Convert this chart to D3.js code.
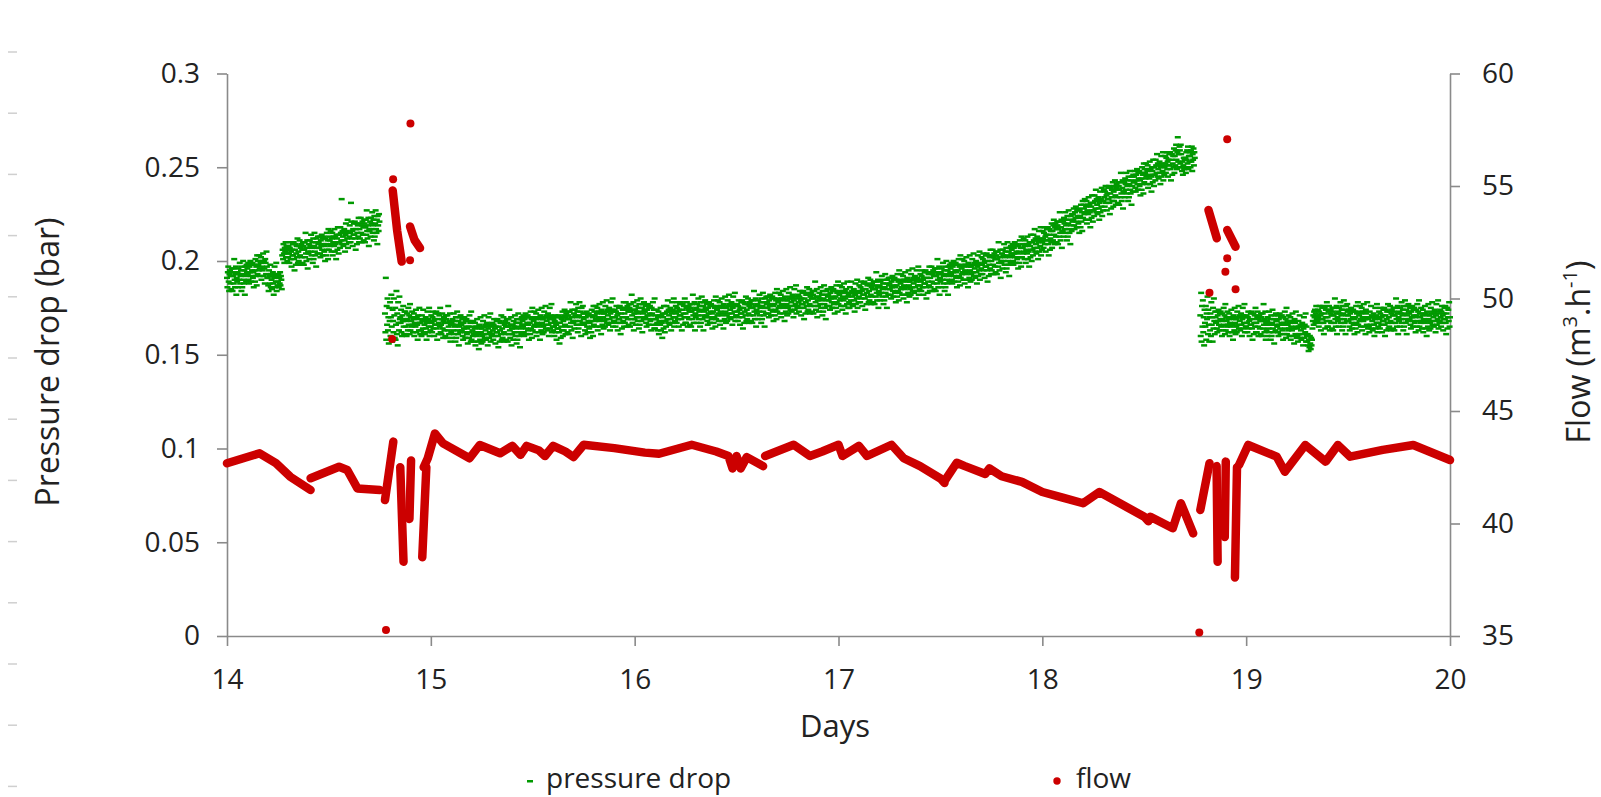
<!DOCTYPE html>
<html>
<head>
<meta charset="utf-8">
<script src="https://cdn.jsdelivr.net/npm/d3@7"></script>
<style>
  body { margin: 0; background: #fff; }
  svg { display: block; font-family: "Open Sans", sans-serif; }
</style>
</head>
<body>
<svg id="chart"></svg>
<script>
const dayTicks = [14, 15, 16, 17, 18, 19, 20]
const pressureTicks = [0, 0.05, 0.1, 0.15, 0.2, 0.25, 0.3]
const flowTicks = [35, 40, 45, 50, 55, 60]

// pressure drop in mbar, one row per block: [start day, then one reading every 3 min]
const pressureDrop = [
  [14.00, 191,186,194,197,189,184,193,195,188,192,185,196, 194,184,192,196,188,201,190,186,193,197,182,191],
  [14.05, 189,194,186,196,193,190,199,188,192,195,184,197, 186,193,200,190,188,195,182,197,192,189,198,194],
  [14.10, 196,193,199,190,188,197,194,200,192,189,198,195, 199,191,194,186,198,195,189,201,192,197,187,203],
  [14.15, 193,200,198,195,203,196,192,199,202,190,197,200, 195,204,192,200,196,188,201,199,193,205,197,191],
  [14.20, 191,187,184,195,192,188,198,186,193,190,185,192, 194,188,182,191,197,186,193,189,199,184,192,187],
  [14.25, 189,193,186,191,188,194,187,192,190,185, 203,206,201,209,204,199,207,205,210,202,208,204,200,206],
  [14.30, 202,208,204,199,207,210,201,205,197,206,203,209, 203,210,201,195,206,209,198,204,208,202,212,199],
  [14.35, 205,200,208,211,203,198,207,209,202,206,199,210, 208,198,206,210,202,215,204,200,207,211,196,205],
  [14.40, 204,209,201,211,208,205,214,203,207,210,199,212, 201,208,215,205,203,210,197,212,207,204,213,209],
  [14.45, 210,207,213,204,202,211,208,214,206,203,212,209, 213,205,208,200,212,209,203,215,206,211,201,217],
  [14.50, 206,213,211,208,216,209,205,212,215,203,210,213, 208,217,205,213,209,201,214,212,206,218,210,204],
  [14.55, 214,210,207,218,215,211,233,209,216,213,208,215, 217,211,205,214,220,209,216,212,222,207,215,210],
  [14.60, 213,219,215,210,231,221,212,216,208,217,214,220, 214,221,212,206,217,220,209,215,219,213,223,210],
  [14.65, 217,212,220,223,215,210,219,221,214,218,211,222, 220,210,218,222,214,227,216,212,219,223,208,217],
  [14.70, 216,221,213,223,220,217,226,215,219,222,211,224, 213,220,227,217,215,222,209,224,219,216,225,221],
  [14.775, 172,162,191,158,176,166,180,163,170,156,175,168],
  [14.80, 178,160,170,182,165,157,174,168,162,180,171,159, 175,158,166,184,161,172,155,178,167,163,181,169],
  [14.85, 170,167,174,162,160,171,168,176,165,161,173,169, 173,165,168,160,172,169,163,175,166,171,161,177],
  [14.90, 163,170,168,165,173,166,162,169,172,160,167,170, 165,174,162,170,166,158,171,169,163,175,167,161],
  [14.95, 167,163,160,171,168,164,174,162,169,166,161,168, 170,164,158,167,173,162,169,165,175,160,168,163],
  [15.00, 165,171,167,162,170,173,164,168,160,169,166,172, 166,173,164,158,169,172,161,167,171,165,175,162],
  [15.05, 166,161,169,172,164,159,168,170,163,167,160,171, 169,159,167,171,163,176,165,161,168,172,157,166],
  [15.10, 162,167,159,169,166,163,172,161,165,168,157,170, 159,166,173,163,161,168,155,170,165,162,171,167],
  [15.15, 166,163,169,160,158,167,164,170,162,159,168,165, 169,161,164,156,168,165,159,171,162,167,157,173],
  [15.20, 158,165,163,160,168,161,157,164,167,155,162,165, 160,169,157,165,161,153,166,164,158,170,162,156],
  [15.25, 164,160,157,168,165,161,171,159,166,163,158,165, 167,161,155,164,170,159,166,162,172,157,165,160],
  [15.30, 161,167,163,158,166,169,160,164,156,165,162,168, 162,169,160,154,165,168,157,163,167,161,171,158],
  [15.35, 164,159,167,170,162,157,166,168,161,165,158,169, 167,157,165,169,161,174,163,159,166,170,155,164],
  [15.40, 161,166,158,168,165,162,171,160,164,167,156,169, 158,165,172,162,160,167,154,169,164,161,170,166],
  [15.45, 168,165,171,162,160,169,166,172,164,161,170,167, 171,163,166,158,170,167,161,173,164,169,159,175],
  [15.50, 163,170,168,165,173,166,162,169,172,160,167,170, 165,174,162,170,166,158,171,169,163,175,167,161],
  [15.55, 169,165,162,173,170,166,176,164,171,168,163,170, 172,166,160,169,175,164,171,167,177,162,170,165],
  [15.60, 163,169,165,160,168,171,162,166,158,167,164,170, 164,171,162,156,167,170,159,165,169,163,173,160],
  [15.65, 168,163,171,174,166,161,170,172,165,169,162,173, 171,161,169,173,165,178,167,163,170,174,159,168],
  [15.70, 167,172,164,174,171,168,177,166,170,173,162,175, 164,171,178,168,166,173,160,175,170,167,176,172],
  [15.75, 169,166,172,163,161,170,167,173,165,162,171,168, 172,164,167,159,171,168,162,174,165,170,160,176],
  [15.80, 166,173,171,168,176,169,165,172,175,163,170,173, 168,177,165,173,169,161,174,172,166,178,170,164],
  [15.85, 172,168,165,176,173,169,179,167,174,171,166,173, 175,169,163,172,178,167,174,170,180,165,173,168],
  [15.90, 168,174,170,165,173,176,167,171,163,172,169,175, 169,176,167,161,172,175,164,170,174,168,178,165],
  [15.95, 172,167,175,178,170,165,174,176,169,173,166,177, 175,165,173,177,169,182,171,167,174,178,163,172],
  [16.00, 169,174,166,176,173,170,179,168,172,175,164,177, 166,173,180,170,168,175,162,177,172,169,178,174],
  [16.05, 173,170,176,167,165,174,171,177,169,166,175,172, 176,168,171,163,175,172,166,178,169,174,164,180],
  [16.10, 164,171,169,166,174,167,163,170,173,161,168,171, 166,175,163,171,167,159,172,170,164,176,168,162],
  [16.15, 172,168,165,176,173,169,179,167,174,171,166,173, 175,169,163,172,178,167,174,170,180,165,173,168],
  [16.20, 170,176,172,167,175,178,169,173,165,174,171,177, 171,178,169,163,174,177,166,172,176,170,180,167],
  [16.25, 172,167,175,178,170,165,174,176,169,173,166,177, 175,165,173,177,169,182,171,167,174,178,163,172],
  [16.30, 170,175,167,177,174,171,180,169,173,176,165,178, 167,174,181,171,169,176,163,178,173,170,179,175],
  [16.35, 174,171,177,168,166,175,172,178,170,167,176,173, 177,169,172,164,176,173,167,179,170,175,165,181],
  [16.40, 169,176,174,171,179,172,168,175,178,166,173,176, 171,180,168,176,172,164,177,175,169,181,173,167],
  [16.45, 175,171,168,179,176,172,182,170,177,174,169,176, 178,172,166,175,181,170,177,173,183,168,176,171],
  [16.50, 171,177,173,168,176,179,170,174,166,175,172,178, 172,179,170,164,175,178,167,173,177,171,181,168],
  [16.55, 174,169,177,180,172,167,176,178,171,175,168,179, 177,167,175,179,171,184,173,169,176,180,165,174],
  [16.60, 172,177,169,179,176,173,182,171,175,178,167,180, 169,176,183,173,171,178,165,180,175,172,181,177],
  [16.65, 178,175,181,172,170,179,176,182,174,171,180,177, 181,173,176,168,180,177,171,183,174,179,169,185],
  [16.70, 173,180,178,175,183,176,172,179,182,170,177,180, 175,184,172,180,176,168,181,179,173,185,177,171],
  [16.75, 179,175,172,183,180,176,186,174,181,178,173,180, 182,176,170,179,185,174,181,177,187,172,180,175],
  [16.80, 176,182,178,173,181,184,175,179,171,180,177,183, 177,184,175,169,180,183,172,178,182,176,186,173],
  [16.85, 179,174,182,185,177,172,181,183,176,180,173,184, 182,172,180,184,176,189,178,174,181,185,170,179],
  [16.90, 176,181,173,183,180,177,186,175,179,182,171,184, 173,180,187,177,175,182,169,184,179,176,185,181],
  [16.95, 182,179,185,176,174,183,180,186,178,175,184,181, 185,177,180,172,184,181,175,187,178,183,173,189],
  [17.00, 177,184,182,179,187,180,176,183,186,174,181,184, 179,188,176,184,180,172,185,183,177,189,181,175],
  [17.05, 182,178,175,186,183,179,189,177,184,181,176,183, 185,179,173,182,188,177,184,180,190,175,183,178],
  [17.10, 181,187,183,178,186,189,180,184,176,185,182,188, 182,189,180,174,185,188,177,183,187,181,191,178],
  [17.15, 184,179,187,190,182,177,186,188,181,185,178,189, 187,177,185,189,181,194,183,179,186,190,175,184],
  [17.20, 182,187,179,189,186,183,192,181,185,188,177,190, 179,186,193,183,181,188,175,190,185,182,191,187],
  [17.25, 188,185,191,182,180,189,186,192,184,181,190,187, 191,183,186,178,190,187,181,193,184,189,179,195],
  [17.30, 183,190,188,185,193,186,182,189,192,180,187,190, 185,194,182,190,186,178,191,189,183,195,187,181],
  [17.35, 189,185,182,193,190,186,196,184,191,188,183,190, 192,186,180,189,195,184,191,187,197,182,190,185],
  [17.40, 187,193,189,184,192,195,186,190,182,191,188,194, 188,195,186,180,191,194,183,189,193,187,197,184],
  [17.45, 191,186,194,197,189,184,193,195,188,192,185,196, 194,184,192,196,188,201,190,186,193,197,182,191],
  [17.50, 189,194,186,196,193,190,199,188,192,195,184,197, 186,193,200,190,188,195,182,197,192,189,198,194],
  [17.55, 196,193,199,190,188,197,194,200,192,189,198,195, 199,191,194,186,198,195,189,201,192,197,187,203],
  [17.60, 191,198,196,193,201,194,190,197,200,188,195,198, 193,202,190,198,194,186,199,197,191,203,195,189],
  [17.65, 197,193,190,201,198,194,204,192,199,196,191,198, 200,194,188,197,203,192,199,195,205,190,198,193],
  [17.70, 196,202,198,193,201,204,195,199,191,200,197,203, 197,204,195,189,200,203,192,198,202,196,206,193],
  [17.75, 200,195,203,206,198,193,202,204,197,201,194,205, 203,193,201,205,197,210,199,195,202,206,191,200],
  [17.80, 199,204,196,206,203,200,209,198,202,205,194,207, 196,203,210,200,198,205,192,207,202,199,208,204],
  [17.85, 206,203,209,200,198,207,204,210,202,199,208,205, 209,201,204,196,208,205,199,211,202,207,197,213],
  [17.90, 202,209,207,204,212,205,201,208,211,199,206,209, 204,213,201,209,205,197,210,208,202,214,206,200],
  [17.95, 210,206,203,214,211,207,217,205,212,209,204,211, 213,207,201,210,216,205,212,208,218,203,211,206],
  [18.00, 210,216,212,207,215,218,209,213,205,214,211,217, 211,218,209,203,214,217,206,212,216,210,220,207],
  [18.05, 216,211,219,222,214,209,218,220,213,217,210,221, 219,209,217,221,213,226,215,211,218,222,207,216],
  [18.10, 216,221,213,223,220,217,226,215,219,222,211,224, 213,220,227,217,215,222,209,224,219,216,225,221],
  [18.15, 225,222,228,219,217,226,223,229,221,218,227,224, 228,220,223,215,227,224,218,230,221,226,216,232],
  [18.20, 223,230,228,225,233,226,222,229,232,220,227,230, 225,234,222,230,226,218,231,229,223,235,227,221],
  [18.25, 231,227,224,235,232,228,238,226,233,230,225,232, 234,228,222,231,237,226,233,229,239,224,232,227],
  [18.30, 232,238,234,229,237,240,231,235,227,236,233,239, 233,240,231,225,236,239,228,234,238,232,242,229],
  [18.35, 237,232,240,243,235,230,239,241,234,238,231,242, 240,230,238,242,234,247,236,232,239,243,228,237],
  [18.40, 237,242,234,244,241,238,247,236,240,243,232,245, 234,241,248,238,236,243,230,245,240,237,246,242],
  [18.45, 245,242,248,239,237,246,243,249,241,238,247,244, 248,240,243,235,247,244,238,250,241,246,236,252],
  [18.50, 242,249,247,244,252,245,241,248,251,239,246,249, 244,253,241,249,245,237,250,248,242,254,246,240],
  [18.55, 250,246,243,254,251,247,257,245,252,249,244,251, 253,247,241,250,256,245,252,248,258,243,251,246],
  [18.60, 250,256,252,247,255,258,249,253,245,254,251,257, 251,258,249,243,254,257,246,252,256,250,260,247],
  [18.65, 256,251,259,262,254,249,258,266,253,257,250,261, 259,252,262,257,250,248,253,246,251,255,249,254],
  [18.70, 250,255,247,258,254,259,252,261,249,256,253,258, 256,250,259,253,261,248,257,254,260,251,258,255],
  [18.775, 171,160,183,157,176,165,179,162,170,155,174,167],
  [18.80, 165,176,158,172,169,181,161,174,166,157,170,163, 172,160,178,166,170,157,175,164,180,168,161,173],
  [18.85, 170,167,173,164,162,171,168,174,166,163,172,169, 173,165,168,160,172,169,163,175,166,171,161,177],
  [18.90, 163,170,168,165,173,166,162,169,172,160,167,170, 165,174,162,170,166,158,171,169,163,175,167,161],
  [18.95, 169,165,162,173,170,166,176,164,171,168,163,170, 172,166,160,169,175,164,171,167,177,162,170,165],
  [19.00, 165,171,167,162,170,173,164,168,160,169,166,172, 166,173,164,158,169,172,161,167,171,165,175,162],
  [19.05, 167,162,170,173,165,160,169,171,164,168,161,172, 170,160,168,172,164,177,166,162,169,173,158,167],
  [19.10, 163,168,160,170,167,164,173,162,166,169,158,171, 160,167,174,164,162,169,156,171,166,163,172,168],
  [19.15, 168,165,171,162,160,169,166,172,164,161,170,167, 171,163,166,158,170,167,161,173,164,169,159,175],
  [19.20, 161,168,166,163,171,164,160,167,170,158,165,168, 163,172,160,168,164,156,169,167,161,173,165,159],
  [19.25, 164,160,157,168,165,161,171,159,166,163,158,165, 167,161,155,164,170,159,166,162,172,157,165,160],
  [19.30, 157,161,155,152,158,154,160,156,153,159,155,158, 164,168,171,166,173,170,174,167,172,176,169,171],
  [19.35, 168,174,170,165,173,176,167,171,163,172,169,175, 169,176,167,161,172,175,164,170,174,168,178,165],
  [19.40, 170,165,173,176,168,163,172,174,167,171,164,175, 173,163,171,175,167,180,169,165,172,176,161,170],
  [19.45, 168,173,165,175,172,169,178,167,171,174,163,176, 165,172,179,169,167,174,161,176,171,168,177,173],
  [19.50, 171,168,174,165,163,172,169,175,167,164,173,170, 174,166,169,161,173,170,164,176,167,172,162,178],
  [19.55, 166,173,171,168,176,169,165,172,175,163,170,173, 168,177,165,173,169,161,174,172,166,178,170,164],
  [19.60, 169,165,162,173,170,166,176,164,171,168,163,170, 172,166,160,169,175,164,171,167,177,162,170,165],
  [19.65, 167,173,169,164,172,175,166,170,162,171,168,174, 168,175,166,160,171,174,163,169,173,167,177,164],
  [19.70, 170,165,173,176,168,163,172,174,167,171,164,175, 173,163,171,175,167,180,169,165,172,176,161,170],
  [19.75, 168,173,165,175,172,169,178,167,171,174,163,176, 165,172,179,169,167,174,161,176,171,168,177,173],
  [19.80, 172,169,175,166,164,173,170,176,168,165,174,171, 175,167,170,162,174,171,165,177,168,173,163,179],
  [19.85, 165,172,170,167,175,168,164,171,174,162,169,172, 167,176,164,172,168,160,173,171,165,177,169,163],
  [19.90, 171,167,164,175,172,168,178,166,173,170,165,172, 174,168,162,171,177,166,173,169,179,164,172,167],
  [19.95, 168,174,170,165,173,176,167,171,163,172,169,175, 169,176,167,161,172,175,164,170,174,168,178,165],
  [20.00, 170]
]

// flow (m3/h): runs of readings that join up into a thick line, [day, flow]
const flowRuns = [
  [[14.00,42.68],[14.08,42.9],[14.16,43.12],[14.24,42.68],[14.31,42.08],[14.41,41.49]],
  [[14.41,42.01],[14.55,42.52],[14.59,42.38],[14.64,41.56],[14.75,41.49]],
  [[14.775,41.04],[14.816,43.64]],
  [[14.850,42.5],[14.866,38.3]],
  [[14.903,42.8],[14.895,40.2]],
  [[14.978,42.5],[14.958,38.5]],
  [[14.965,42.5],[14.985,42.9],[15.02,44.0],[15.06,43.56],[15.19,42.9],[15.24,43.49],[15.34,43.12],
   [15.40,43.45],[15.44,43.05],[15.47,43.45],[15.53,43.25],[15.56,43.0],[15.60,43.45],[15.66,43.2],
   [15.70,42.95],[15.75,43.5],[15.90,43.35],[16.05,43.15],[16.12,43.1],[16.28,43.5],[16.40,43.2],
   [16.46,43.0],[16.48,42.45],[16.50,43.0],[16.52,42.45],[16.55,42.95],[16.63,42.55]],
  [[16.64,43.0],[16.78,43.5],[16.86,43.0],[16.92,43.2],[17.00,43.5],[17.02,43.0],[17.10,43.45],
   [17.14,43.0],[17.26,43.5],[17.32,42.9],[17.40,42.55],[17.50,42.0],[17.52,41.8]],
  [[17.525,41.95],[17.58,42.7],[17.62,42.55],[17.72,42.2],[17.74,42.45],[17.80,42.1],[17.90,41.85],
   [18.00,41.4],[18.10,41.15],[18.20,40.9],[18.28,41.4],[18.34,41.1],[18.42,40.7],[18.50,40.3],
   [18.52,40.1],[18.53,40.3],[18.64,39.79],[18.68,40.9],[18.74,39.56]],
  [[18.775,40.6],[18.82,42.68]],
  [[18.855,42.55],[18.86,38.3]],
  [[18.90,42.75],[18.895,39.4]],
  [[18.955,42.5],[18.945,37.6]],
  [[18.965,42.6],[19.01,43.49],[19.15,42.97],[19.19,42.30],[19.29,43.49],[19.39,42.75],[19.45,43.49],
   [19.51,42.97],[19.67,43.27],[19.82,43.49],[20.0,42.82]],
  [[14.813,54.8],[14.835,53.0],[14.857,51.64]],
  [[14.898,53.2],[14.92,52.6],[14.947,52.24]],
  [[18.815,53.93],[18.856,52.68]],
  [[18.907,53.04],[18.948,52.30]]
]

// single flow readings standing on their own
const flowDots = [
  [14.815,55.3],[14.90,57.78],[14.898,51.7],[14.81,48.2],[14.78,35.27],
  [18.907,57.08],[18.907,51.79],[18.898,51.19],[18.82,50.26],[18.948,50.41],[18.77,35.16]
]

const w = 1601
const h = 797
const plotLeft = 227, plotRight = 1450, plotTop = 73.5, plotBottom = 636
const green = "#009900"
const red = "#cc0000"
const axisGrey = "#8a8a8a"
const textCol = "#222"

const svg = d3.select("#chart")
  .attr("width", w)
  .attr("height", h)

const x = d3.scaleLinear().domain([14, 20]).range([plotLeft, plotRight])
const yP = d3.scaleLinear().domain([0, 0.3]).range([plotBottom, plotTop])
const yF = d3.scaleLinear().domain([35, 60]).range([plotBottom, plotTop])

// little grey marks down the left edge
svg.append("g").selectAll("line")
  .data(d3.range(13))
  .enter()
  .append("line")
  .attr("x1", 8).attr("x2", 17)
  .attr("y1", i => 52 + i * 61.2).attr("y2", i => 52 + i * 61.2)
  .attr("stroke", "#cfcfcf")
  .attr("stroke-width", 1.5)

function styleAxis(g, size) {
  g.selectAll("path, line").attr("stroke", axisGrey).attr("stroke-width", 1.6)
  g.selectAll("text").attr("fill", textCol).attr("font-size", size)
    .attr("font-family", "'Open Sans', sans-serif")
}

svg.append("g")
  .attr("transform", `translate(${plotLeft}, 0)`)
  .call(d3.axisLeft(yP).tickValues(pressureTicks).tickSize(10).tickSizeOuter(0).tickPadding(17)
    .tickFormat(d => String(+d.toFixed(2))))
  .call(g => styleAxis(g, 28))

svg.append("g")
  .attr("transform", `translate(${plotRight}, 0)`)
  .call(d3.axisRight(yF).tickValues(flowTicks).tickSize(10).tickSizeOuter(0).tickPadding(22))
  .call(g => styleAxis(g, 28))

svg.append("g")
  .attr("transform", `translate(0, ${plotBottom})`)
  .call(d3.axisBottom(x).tickValues(dayTicks).tickSize(10).tickSizeOuter(0).tickPadding(23)
    .tickFormat(d3.format("d")))
  .call(g => styleAxis(g, 28))

// pressure drop points as small dashes
const readings = []
pressureDrop.forEach(row => {
  row.slice(1).forEach((v, k) => readings.push({ day: row[0] + k / 480, bar: v / 1000 }))
})

svg.append("g").selectAll("rect")
  .data(readings)
  .enter()
  .append("rect")
  .attr("x", d => x(d.day) - 3)
  .attr("y", d => yP(d.bar) - 1.25)
  .attr("width", 6)
  .attr("height", 2.5)
  .attr("fill", green)

// flow
const line = d3.line().x(d => x(d[0])).y(d => yF(d[1]))

svg.append("g").selectAll("path")
  .data(flowRuns)
  .enter()
  .append("path")
  .attr("d", line)
  .attr("fill", "none")
  .attr("stroke", red)
  .attr("stroke-width", 8.5)
  .attr("stroke-linecap", "round")
  .attr("stroke-linejoin", "round")

svg.append("g").selectAll("circle")
  .data(flowDots)
  .enter()
  .append("circle")
  .attr("cx", d => x(d[0]))
  .attr("cy", d => yF(d[1]))
  .attr("r", 4)
  .attr("fill", red)

// axis titles
svg.append("text")
  .attr("transform", "translate(59, 362) rotate(-90)")
  .attr("text-anchor", "middle")
  .attr("font-size", 32)
  .attr("fill", textCol)
  .text("Pressure drop (bar)")

const flowTitle = svg.append("text")
  .attr("transform", "translate(1590, 352) rotate(-90)")
  .attr("text-anchor", "middle")
  .attr("font-size", 32)
  .attr("fill", textCol)
flowTitle.append("tspan").text("Flow (m")
flowTitle.append("tspan").attr("baseline-shift", "super").attr("font-size", 20).text("3")
flowTitle.append("tspan").text(".h")
flowTitle.append("tspan").attr("baseline-shift", "super").attr("font-size", 20).text("-1")
flowTitle.append("tspan").text(")")

svg.append("text")
  .attr("x", 835)
  .attr("y", 737)
  .attr("text-anchor", "middle")
  .attr("font-size", 31)
  .attr("fill", textCol)
  .text("Days")

// legend
svg.append("rect")
  .attr("x", 527).attr("y", 780)
  .attr("width", 6).attr("height", 2.5)
  .attr("fill", green)
svg.append("text")
  .attr("x", 546).attr("y", 788)
  .attr("font-size", 28)
  .attr("fill", textCol)
  .text("pressure drop")

svg.append("circle")
  .attr("cx", 1057).attr("cy", 781)
  .attr("r", 3.7)
  .attr("fill", red)
svg.append("text")
  .attr("x", 1076).attr("y", 788)
  .attr("font-size", 28)
  .attr("fill", textCol)
  .text("flow")
</script>
</body>
</html>
